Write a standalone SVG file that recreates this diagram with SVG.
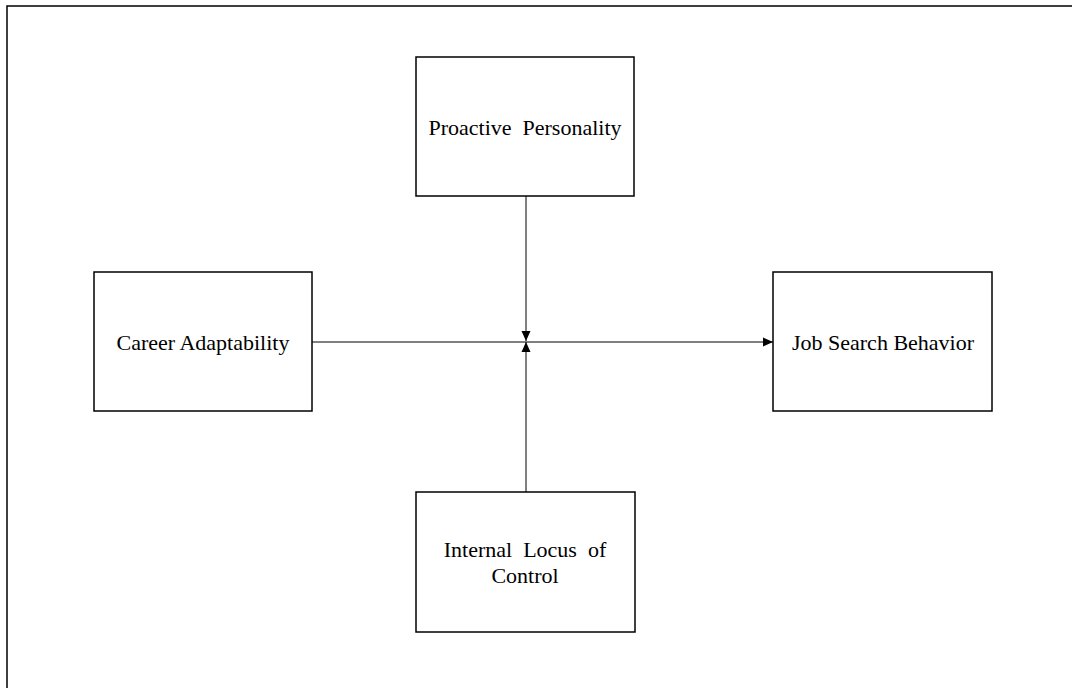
<svg xmlns="http://www.w3.org/2000/svg" width="1072" height="688" viewBox="0 0 1072 688">
<style>
.box{fill:#fff;stroke:#000;stroke-width:1.5}
.lbl{font-family:"Liberation Serif","Times New Roman",serif;font-size:22px;fill:#000;text-anchor:middle}
.conn{stroke:#000;stroke-width:1;fill:none}
</style>
<defs>
<marker id="ah" markerWidth="11" markerHeight="11" refX="10" refY="5" orient="auto" markerUnits="userSpaceOnUse">
<path d="M0,0.5 L10,5 L0,9.5 Z" fill="#000"/>
</marker>
</defs>
<rect x="7" y="6" width="1080" height="700" fill="#fff" stroke="#000" stroke-width="1.5"/>
<g id="connectors">
<line class="conn" x1="312" y1="342" x2="773" y2="342" marker-end="url(#ah)"/>
<line class="conn" x1="526" y1="196" x2="526" y2="341" marker-end="url(#ah)"/>
<line class="conn" x1="526" y1="492" x2="526" y2="342" marker-end="url(#ah)"/>
</g>
<g id="proactive">
<rect class="box" x="416" y="57" width="218" height="139"/>
<text class="lbl" x="525" y="135" xml:space="preserve">Proactive  Personality</text>
</g>
<g id="career">
<rect class="box" x="94" y="272" width="218" height="139"/>
<text class="lbl" x="203" y="350">Career Adaptability</text>
</g>
<g id="jobsearch">
<rect class="box" x="773" y="272" width="219" height="139"/>
<text class="lbl" x="883" y="350">Job Search Behavior</text>
</g>
<g id="locus">
<rect class="box" x="416" y="492" width="219" height="140"/>
<text class="lbl" x="525" y="557" xml:space="preserve">Internal  Locus  of</text>
<text class="lbl" x="525" y="583">Control</text>
</g>
</svg>
